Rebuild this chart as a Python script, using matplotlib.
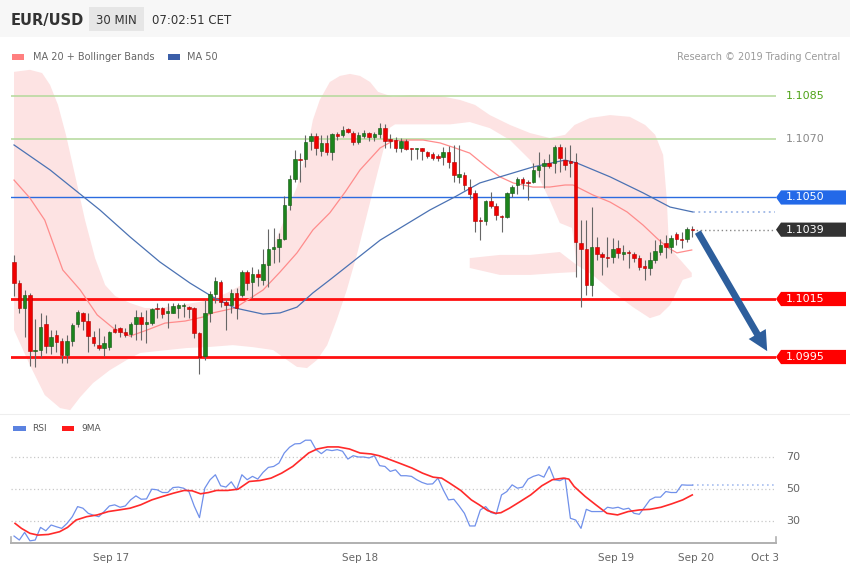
import numpy as np
import matplotlib
matplotlib.use("Agg")
import matplotlib.pyplot as plt
import matplotlib.transforms as mtrans
from matplotlib.patches import Rectangle, Polygon

plt.rcParams['font.family'] = ['DejaVu Sans']

# ---------------- data (EUR/USD, 30 min candles) ----------------
opens = [1.10278, 1.10206, 1.10120, 1.10164, 1.09971, 1.09974, 1.10064, 1.09988, 1.10026, 1.10006,
         1.09957, 1.10005, 1.10063, 1.10102, 1.10074, 1.10019, 1.09991, 1.09981, 1.09984, 1.10048,
         1.10050, 1.10037, 1.10029, 1.10063, 1.10088, 1.10063, 1.10067, 1.10119, 1.10119, 1.10103,
         1.10103, 1.10119, 1.10126, 1.10122, 1.10119, 1.10033, 1.09953, 1.10102, 1.10167, 1.10210,
         1.10141, 1.10129, 1.10172, 1.10164, 1.10244, 1.10210, 1.10236, 1.10216, 1.10267, 1.10322,
         1.10329, 1.10357, 1.10474, 1.10564, 1.10633, 1.10632, 1.10695, 1.10712, 1.10660, 1.10689,
         1.10658, 1.10719, 1.10716, 1.10736, 1.10722, 1.10691, 1.10713, 1.10722, 1.10710, 1.10719,
         1.10740, 1.10702, 1.10698, 1.10672, 1.10695, 1.10671, 1.10668, 1.10671, 1.10657, 1.10650,
         1.10643, 1.10641, 1.10658, 1.10623, 1.10572, 1.10578, 1.10536, 1.10516, 1.10422, 1.10420,
         1.10489, 1.10471, 1.10436, 1.10432, 1.10517, 1.10543, 1.10565, 1.10553, 1.10552, 1.10595,
         1.10609, 1.10620, 1.10620, 1.10675, 1.10629, 1.10623, 1.10623, 1.10344, 1.10321, 1.10198,
         1.10330, 1.10305, 1.10296, 1.10294, 1.10325, 1.10305, 1.10312, 1.10305, 1.10290, 1.10264,
         1.10256, 1.10284, 1.10313, 1.10344, 1.10330, 1.10374, 1.10356, 1.10356, 1.10390]
highs = [1.10302, 1.10216, 1.10181, 1.10171, 1.10081, 1.10102, 1.10095, 1.10043, 1.10043, 1.10016,
         1.10026, 1.10067, 1.10112, 1.10105, 1.10102, 1.10040, 1.10050, 1.10022, 1.10040, 1.10064,
         1.10054, 1.10050, 1.10072, 1.10112, 1.10105, 1.10112, 1.10119, 1.10136, 1.10123, 1.10136,
         1.10136, 1.10136, 1.10137, 1.10126, 1.10122, 1.10036, 1.10147, 1.10179, 1.10227, 1.10216,
         1.10150, 1.10184, 1.10188, 1.10250, 1.10250, 1.10261, 1.10253, 1.10322, 1.10391, 1.10395,
         1.10378, 1.10505, 1.10578, 1.10664, 1.10653, 1.10716, 1.10722, 1.10722, 1.10716, 1.10716,
         1.10722, 1.10727, 1.10747, 1.10741, 1.10729, 1.10726, 1.10733, 1.10727, 1.10727, 1.10757,
         1.10753, 1.10719, 1.10710, 1.10706, 1.10702, 1.10672, 1.10672, 1.10672, 1.10660, 1.10658,
         1.10649, 1.10675, 1.10679, 1.10681, 1.10681, 1.10589, 1.10564, 1.10526, 1.10434, 1.10491,
         1.10520, 1.10481, 1.10440, 1.10520, 1.10543, 1.10572, 1.10572, 1.10560, 1.10619, 1.10658,
         1.10633, 1.10650, 1.10681, 1.10684, 1.10675, 1.10681, 1.10653, 1.10422, 1.10422, 1.10466,
         1.10365, 1.10313, 1.10365, 1.10360, 1.10353, 1.10336, 1.10319, 1.10313, 1.10302, 1.10284,
         1.10313, 1.10353, 1.10356, 1.10371, 1.10371, 1.10382, 1.10382, 1.10397, 1.10400]
lows = [1.10160, 1.10101, 1.10020, 1.09919, 1.09916, 1.09950, 1.09964, 1.09960, 1.09967, 1.09929,
        1.09929, 1.09988, 1.10053, 1.10043, 1.09967, 1.09988, 1.09974, 1.09953, 1.09974, 1.10033,
        1.10020, 1.10019, 1.10020, 1.10009, 1.10009, 1.09999, 1.10060, 1.10084, 1.10084, 1.10050,
        1.10102, 1.10084, 1.10089, 1.10084, 1.10016, 1.09891, 1.09940, 1.10072, 1.10136, 1.10123,
        1.10043, 1.10102, 1.10081, 1.10157, 1.10181, 1.10153, 1.10195, 1.10198, 1.10192, 1.10274,
        1.10279, 1.10353, 1.10457, 1.10553, 1.10553, 1.10606, 1.10664, 1.10647, 1.10643, 1.10647,
        1.10630, 1.10698, 1.10709, 1.10722, 1.10681, 1.10684, 1.10705, 1.10695, 1.10695, 1.10706,
        1.10672, 1.10671, 1.10657, 1.10658, 1.10664, 1.10630, 1.10633, 1.10630, 1.10636, 1.10630,
        1.10626, 1.10612, 1.10601, 1.10554, 1.10550, 1.10526, 1.10495, 1.10382, 1.10353, 1.10405,
        1.10464, 1.10422, 1.10382, 1.10429, 1.10503, 1.10512, 1.10529, 1.10491, 1.10550, 1.10572,
        1.10533, 1.10601, 1.10584, 1.10589, 1.10595, 1.10572, 1.10227, 1.10123, 1.10164, 1.10160,
        1.10284, 1.10233, 1.10261, 1.10274, 1.10291, 1.10284, 1.10257, 1.10279, 1.10250, 1.10216,
        1.10233, 1.10274, 1.10302, 1.10290, 1.10308, 1.10336, 1.10325, 1.10348, 1.10365]
closes = [1.10206, 1.10120, 1.10164, 1.09971, 1.09974, 1.10053, 1.09988, 1.10020, 1.10002, 1.09957,
          1.10005, 1.10060, 1.10106, 1.10074, 1.10022, 1.09998, 1.09981, 1.09999, 1.10036, 1.10037,
          1.10036, 1.10026, 1.10064, 1.10089, 1.10064, 1.10072, 1.10116, 1.10116, 1.10098, 1.10106,
          1.10126, 1.10129, 1.10129, 1.10116, 1.10033, 1.09950, 1.10102, 1.10167, 1.10213, 1.10141,
          1.10129, 1.10171, 1.10119, 1.10244, 1.10206, 1.10236, 1.10226, 1.10271, 1.10322, 1.10330,
          1.10357, 1.10474, 1.10564, 1.10633, 1.10629, 1.10692, 1.10712, 1.10671, 1.10689, 1.10658,
          1.10719, 1.10713, 1.10733, 1.10727, 1.10691, 1.10716, 1.10722, 1.10710, 1.10719, 1.10740,
          1.10695, 1.10695, 1.10671, 1.10695, 1.10667, 1.10667, 1.10671, 1.10660, 1.10644, 1.10637,
          1.10635, 1.10658, 1.10621, 1.10578, 1.10581, 1.10543, 1.10512, 1.10420, 1.10419, 1.10489,
          1.10471, 1.10440, 1.10432, 1.10517, 1.10537, 1.10564, 1.10549, 1.10550, 1.10595, 1.10609,
          1.10620, 1.10609, 1.10675, 1.10635, 1.10612, 1.10620, 1.10348, 1.10321, 1.10198, 1.10330,
          1.10305, 1.10294, 1.10292, 1.10321, 1.10308, 1.10313, 1.10308, 1.10290, 1.10261, 1.10256,
          1.10284, 1.10317, 1.10336, 1.10328, 1.10361, 1.10356, 1.10353, 1.10390, 1.10389]

# moving averages (candle position, price)
ma20_pos = [0, 3.0, 5.8, 9.2, 12.5, 15.7, 18.7, 21.9, 25.1, 28.5, 32.3, 35.7, 37.5, 41.7, 47.0, 50.2,
            53.4, 56.4, 59.6, 62.5, 65.3, 69.1, 71.5, 74.2, 77.2, 80.4, 83.2, 86.0, 89.2, 91.7, 94.2,
            97.9, 101.1, 104.0, 105.5, 109.2, 112.5, 115.7, 118.7, 121.3, 123.2, 125.1, 127.9]
ma20 = [1.10560, 1.10498, 1.10422, 1.10250, 1.10181, 1.10095, 1.10050, 1.10022, 1.10043, 1.10067,
        1.10074, 1.10088, 1.10102, 1.10119, 1.10181, 1.10243, 1.10309, 1.10388, 1.10447, 1.10519,
        1.10595, 1.10671, 1.10695, 1.10698, 1.10698, 1.10688, 1.10671, 1.10653, 1.10605, 1.10571,
        1.10550, 1.10536, 1.10536, 1.10543, 1.10543, 1.10509, 1.10484, 1.10450, 1.10405, 1.10360,
        1.10329, 1.10309, 1.10319]
ma50_pos = [0, 6.8, 16.2, 21.9, 27.5, 33.2, 37.5, 41.7, 47.0, 50.2, 53.4, 56.4, 59.6, 69.1, 78.5,
            83.2, 87.9, 91.7, 97.9, 104.0, 106.2, 112.5, 118.7, 123.8, 128.1]
ma50 = [1.10681, 1.10595, 1.10457, 1.10364, 1.10278, 1.10205, 1.10157, 1.10119, 1.10098, 1.10102,
        1.10122, 1.10171, 1.10216, 1.10353, 1.10457, 1.10502, 1.10550, 1.10571, 1.10605, 1.10629,
        1.10619, 1.10571, 1.10516, 1.10467, 1.10450]

# Bollinger band shading outline (position, price)
band_top_pos = [0, 3.0, 5.3, 6.8, 8.3, 9.8, 11.5, 13.4, 15.3, 17.2, 19.1, 21.9, 24.7, 27.5, 31.3,
                35.1, 37.9, 40.2, 42.6, 45.1, 47.0, 48.9, 50.8, 52.1, 53.4, 54.5, 55.5, 56.4, 57.7,
                59.6, 61.5, 63.4, 65.3, 67.2, 68.7, 71.5, 74.7, 80.4, 84.2, 87.0, 89.8, 93.6, 97.4,
                101.1, 104.0, 105.8, 108.7, 112.5, 116.2, 119.1, 121.0, 122.5, 123.2, 123.6, 127.9]
band_top = [1.10933, 1.10940, 1.10929, 1.10888, 1.10819, 1.10716, 1.10578, 1.10422, 1.10291, 1.10198,
            1.10160, 1.10136, 1.10119, 1.10119, 1.10129, 1.10140, 1.10153, 1.10171, 1.10195, 1.10222,
            1.10257, 1.10329, 1.10415, 1.10481, 1.10536, 1.10612, 1.10681, 1.10767, 1.10836, 1.10898,
            1.10919, 1.10926, 1.10919, 1.10898, 1.10864, 1.10847, 1.10853, 1.10850, 1.10836, 1.10819,
            1.10784, 1.10750, 1.10722, 1.10705, 1.10716, 1.10750, 1.10774, 1.10784, 1.10778, 1.10750,
            1.10716, 1.10647, 1.10491, 1.10329, 1.10240]
band_bot_pos = [0, 3.0, 5.8, 8.7, 10.6, 12.5, 14.9, 18.1, 21.3, 23.8, 28.9, 32.6, 36.4, 41.3, 45.1,
                48.9, 51.5, 53.4, 55.3, 57.2, 59.1, 60.9, 62.8, 64.7, 66.6, 68.5, 69.8, 70.9, 71.9,
                76.6, 82.3, 86.0, 89.8, 93.6, 97.4, 101.1, 103.0, 105.3, 106.2, 109.2, 112.5, 116.8,
                120.0, 121.9, 123.8, 126.2, 127.9]
band_bot = [1.10043, 1.09922, 1.09819, 1.09774, 1.09767, 1.09812, 1.09860, 1.09905, 1.09940, 1.09964,
            1.09974, 1.09981, 1.09984, 1.09991, 1.09984, 1.09974, 1.09940, 1.09916, 1.09912, 1.09940,
            1.09991, 1.10078, 1.10181, 1.10302, 1.10440, 1.10578, 1.10671, 1.10740, 1.10752, 1.10752,
            1.10752, 1.10760, 1.10739, 1.10698, 1.10629, 1.10491, 1.10412, 1.10395, 1.10267, 1.10233,
            1.10181, 1.10122, 1.10084, 1.10095, 1.10129, 1.10216, 1.10226]
strip_pos = [86.0, 91.7, 97.4, 103.0, 106.2, 106.2, 103.0, 97.4, 91.7, 86.0]
strip_val = [1.10291, 1.10302, 1.10302, 1.10312, 1.10267, 1.10243, 1.10240, 1.10233, 1.10233, 1.10257]

# RSI (one value per candle) and its 9-period MA
rsi = [20.6, 18.1, 22.9, 17.6, 18.1, 26.0, 23.9, 27.5, 26.4, 25.4, 28.5, 32.7, 39.0, 38.0, 34.8, 33.6,
       32.7, 35.9, 39.4, 40.1, 38.6, 39.4, 43.2, 45.7, 43.6, 43.8, 49.9, 49.5, 47.8, 47.8, 50.9, 51.2,
       50.5, 48.4, 39.4, 32.1, 50.5, 55.8, 58.9, 52.0, 51.2, 54.5, 49.5, 58.9, 55.8, 57.9, 56.2, 60.4,
       63.5, 64.1, 66.2, 72.5, 76.1, 78.2, 78.4, 80.5, 80.5, 74.6, 72.1, 74.6, 74.0, 74.6, 73.6, 68.7,
       70.8, 70.0, 70.0, 69.4, 70.8, 64.6, 64.1, 61.0, 62.0, 58.3, 58.3, 57.9, 55.8, 54.1, 53.0, 53.2,
       56.8, 49.5, 43.2, 43.6, 39.4, 34.8, 26.9, 26.9, 36.9, 39.0, 35.3, 34.4, 46.3, 48.4, 52.6, 50.5,
       51.2, 56.2, 57.9, 58.9, 57.4, 64.1, 55.8, 55.2, 56.8, 31.7, 30.6, 25.4, 37.3, 35.9, 35.9, 35.9,
       38.6, 38.0, 38.6, 37.3, 38.0, 34.8, 34.2, 38.6, 43.2, 44.9, 44.9, 48.4, 47.8, 47.8, 52.6, 52.4,
       52.4]
ma9_pos = [0.2, 1.4, 3.0, 4.5, 6.5, 8.6, 10.1, 11.7, 13.7, 15.7, 17.8, 19.8, 21.9, 23.9, 26.0, 28.0,
           30.1, 32.1, 33.6, 35.2, 36.7, 38.2, 40.3, 42.3, 44.4, 46.4, 48.5, 50.5, 52.6, 54.1, 55.6,
           57.2, 59.2, 61.2, 63.3, 65.3, 67.4, 68.9, 71.0, 73.0, 75.1, 77.1, 79.1, 80.7, 82.2, 84.3,
           86.3, 87.8, 89.4, 90.9, 91.9, 93.5, 95.5, 97.5, 99.6, 101.6, 103.7, 104.7, 105.7, 107.8,
           109.8, 111.9, 113.9, 115.9, 118.0, 120.0, 122.1, 124.1, 126.2, 128.0]
ma9 = [28.5, 25.4, 22.3, 21.2, 21.6, 23.3, 26.0, 30.6, 32.7, 33.8, 35.9, 36.9, 38.0, 40.1, 43.2, 45.3,
       47.4, 49.1, 48.9, 47.0, 47.8, 49.1, 49.1, 49.9, 54.7, 55.3, 56.8, 59.9, 64.1, 68.3, 72.5,
       75.0, 76.3, 76.3, 75.0, 72.5, 71.9, 70.8, 68.3, 65.8, 63.1, 59.9, 57.4, 56.8, 53.7, 49.1,
       43.2, 40.1, 36.5, 34.8, 35.2, 38.0, 42.1, 46.3, 52.0, 55.8, 56.8, 56.2, 51.6, 45.3,
       40.1, 34.8, 33.8, 35.9, 36.9, 37.3, 38.6, 40.7, 43.2, 46.3]

levels = [1.1085, 1.1070, 1.1050, 1.1015, 1.0995]
level_colors = ['#b3d99a', '#b3d99a', '#2b6be0', '#ff1010', '#ff1010']
level_widths = [1.1, 1.1, 1.0, 2.0, 2.0]
tick_labels = ['Sep 17', 'Sep 18', 'Sep 19', 'Sep 20', 'Oct 3']
tick_pos = [18.3, 65.3, 113.6, 128.7, 141.7]
rsi_levels = [30, 50, 70]

# ---------------- figure ----------------
W, H = 850, 576
fig = plt.figure(figsize=(W / 100, H / 100), dpi=100)
fig.patch.set_facecolor('white')


def fx(px):
    return px / W


def fy(py):
    return 1 - py / H


# header
fig.patches.append(Rectangle((0, fy(37)), 1, 37 / H, transform=fig.transFigure,
                             facecolor='#f7f7f7', edgecolor='none', zorder=0))
fig.text(fx(11), fy(21), 'EUR/USD', fontsize=10.5, fontweight='bold', color='#333333',
         va='center', ha='left')
fig.patches.append(Rectangle((fx(89), fy(31)), fx(55), 24 / H, transform=fig.transFigure,
                             facecolor='#e6e6e6', edgecolor='none', zorder=1))
fig.text(fx(116.5), fy(20), '30 MIN', fontsize=8.5, color='#333333', va='center', ha='center')
fig.text(fx(152), fy(20), '07:02:51 CET', fontsize=8.5, color='#333333', va='center', ha='left')

# legend of main chart
fig.patches.append(Rectangle((fx(12), fy(59.5)), fx(12), 5 / H, transform=fig.transFigure,
                             facecolor='#ff7f7f', edgecolor='none'))
fig.text(fx(33), fy(57), 'MA 20 + Bollinger Bands', fontsize=7, color='#666666', va='center')
fig.patches.append(Rectangle((fx(168), fy(59.5)), fx(12), 5 / H, transform=fig.transFigure,
                             facecolor='#3b5ea8', edgecolor='none'))
fig.text(fx(187), fy(57), 'MA 50', fontsize=7, color='#666666', va='center')
fig.text(fx(840), fy(57), 'Research \u00a9 2019 Trading Central', fontsize=7, color='#9a9a9a',
         va='center', ha='right')

# ---------------- main price panel ----------------
XMIN, XMAX = -0.57, 143.8
ax = fig.add_axes([fx(11), fy(413), fx(765), (413 - 62) / H])
ax.set_xlim(XMIN, XMAX)
ax.set_ylim(1.09757, 1.10967)
ax.axis('off')

band_color = '#fde3e3'
ax.fill(list(band_top_pos) + list(band_bot_pos[::-1]), list(band_top) + list(band_bot[::-1]),
        color=band_color, lw=0, zorder=1)
ax.fill(strip_pos, strip_val, color=band_color, lw=0, zorder=1)

for lv, col, lw in zip(levels, level_colors, level_widths):
    ax.axhline(lv, color=col, lw=lw, zorder=2)

ax.plot(ma20_pos, ma20, color='#ff8c8c', lw=0.9, zorder=3)
ax.plot(ma50_pos, ma50, color='#4b72b3', lw=0.9, zorder=3)

n = len(closes)
idx = np.arange(n)
o = np.array(opens)
c = np.array(closes)
up = c >= o
bottoms = np.minimum(o, c)
heights = np.maximum(np.abs(c - o), 0.00004)
ax.vlines(idx, lows, highs, color='#666666', lw=0.8, zorder=4)
ax.bar(idx, heights, bottom=bottoms, width=0.66,
       color=np.where(up, '#1c841c', '#f00000'),
       edgecolor=np.where(up, '#115511', '#b00000'), linewidth=0.4, zorder=5)

# extensions to the right
ax.plot([ma50_pos[-1], XMAX - 0.2], [ma50[-1], ma50[-1]], ls=(0, (1, 2)), color='#9db6e6',
        lw=1.3, zorder=3)
ax.plot([idx[-1], XMAX - 0.2], [closes[-1], closes[-1]], ls=(0, (1, 2)), color='#888888',
        lw=1.0, zorder=3)

# forecast arrow
ax.annotate('', xy=(142.4, levels[-1] + 0.00012), xytext=(idx[-1] + 0.8, closes[-1]),
            arrowprops=dict(arrowstyle='simple,head_width=0.75,head_length=0.75,tail_width=0.26',
                            mutation_scale=19, color='#2d5e9c', lw=0),
            zorder=6)

# right-hand price tags
trans = mtrans.blended_transform_factory(ax.transAxes, ax.transData)
x_tip = 1.0
x_sh = (781 - 11) / 765
x_end = (846 - 11) / 765
x_txt = (805 - 11) / 765
hh = 0.000245


def tag(y, text, color):
    poly = Polygon([(x_tip, y), (x_sh, y + hh), (x_end, y + hh), (x_end, y - hh), (x_sh, y - hh)],
                   closed=True, transform=trans, facecolor=color, edgecolor='none', clip_on=False)
    ax.add_patch(poly)
    ax.text(x_txt, y, text, transform=trans, color='white', fontsize=8, ha='center', va='center',
            clip_on=False)


ax.text(x_txt, levels[0], f'{levels[0]:.4f}', transform=trans, color='#4fa318', fontsize=8,
        ha='center', va='center', clip_on=False)
ax.text(x_txt, levels[1], f'{levels[1]:.4f}', transform=trans, color='#8a8a8a', fontsize=8,
        ha='center', va='center', clip_on=False)
tag(levels[2], f'{levels[2]:.4f}', '#2369e8')
tag(closes[-1], f'{closes[-1]:.4f}', '#333333')
tag(levels[3], f'{levels[3]:.4f}', '#ff0000')
tag(levels[4], f'{levels[4]:.4f}', '#ff0000')

# separator
fig.add_artist(plt.Line2D([0, 1], [fy(414), fy(414)], transform=fig.transFigure,
                          color='#eeeeee', lw=0.8))

# ---------------- RSI panel ----------------
ax2 = fig.add_axes([fx(11), fy(543), fx(765), (543 - 437) / H])
ax2.set_xlim(XMIN, XMAX)
ax2.set_ylim(16.25, 82.5)
for s in ['top', 'left', 'right']:
    ax2.spines[s].set_visible(False)
ax2.spines['bottom'].set_color('#b0b0b0')
ax2.spines['bottom'].set_linewidth(1.4)
ax2.set_yticks([])
ax2.set_xticks(tick_pos)
ax2.set_xticklabels(tick_labels, fontsize=7.5, color='#666666')
ax2.tick_params(axis='x', length=0, pad=7)
ax2.patch.set_alpha(0)
for xe in (0.0, 1.0):
    ax2.plot([xe, xe], [0, 0.06], transform=ax2.transAxes, color='#b0b0b0', lw=1.2,
             clip_on=False)

trans2 = mtrans.blended_transform_factory(ax2.transAxes, ax2.transData)
for lv in rsi_levels:
    ax2.axhline(lv, color='#c8c8c8', lw=0.9, ls=(0, (1, 2)), zorder=1)
    ax2.text((793 - 11) / 765, lv, str(lv), transform=trans2, fontsize=8, color='#666666',
             ha='center', va='center', clip_on=False)

ax2.plot(idx, rsi, color='#7090ea', lw=0.9, zorder=3)
ax2.plot(ma9_pos, ma9, color='#ff2a2a', lw=1.2, zorder=4)
ax2.plot([idx[-1], XMAX - 0.2], [rsi[-1], rsi[-1]], ls=(0, (1, 2)), color='#a8bff0', lw=1.2,
         zorder=2)

# RSI legend
fig.patches.append(Rectangle((fx(13.5), fy(431)), fx(12), 5 / H, transform=fig.transFigure,
                             facecolor='#5b82e0', edgecolor='none'))
fig.text(fx(32), fy(428.5), 'RSI', fontsize=6.5, color='#555555', va='center')
fig.patches.append(Rectangle((fx(62), fy(431)), fx(12), 5 / H, transform=fig.transFigure,
                             facecolor='#ff1a1a', edgecolor='none'))
fig.text(fx(81), fy(428.5), '9MA', fontsize=6.5, color='#555555', va='center')

fig.savefig('out.png', dpi=100)
